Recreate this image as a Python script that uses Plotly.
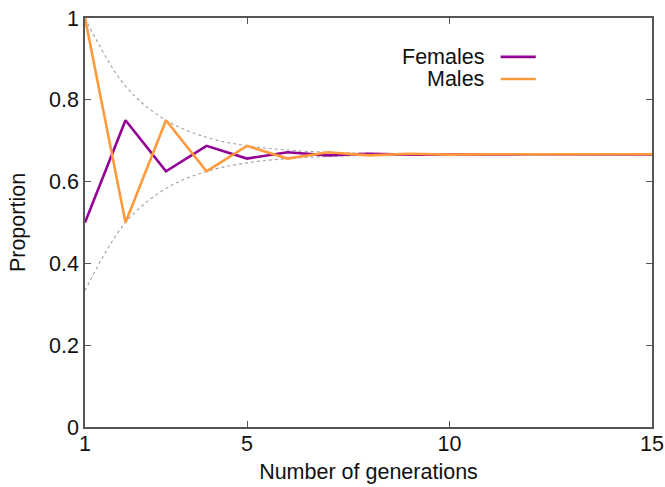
import plotly.graph_objects as go

generations = list(range(1, 16))
females = [0.5, 0.75, 0.625, 0.6875, 0.65625, 0.671875, 0.6640625, 0.66797, 0.66602,
           0.66699, 0.66650, 0.66675, 0.66663, 0.66669, 0.66666]
males = [1.0, 0.5, 0.75, 0.625, 0.6875, 0.65625, 0.671875, 0.6640625, 0.66797,
         0.66602, 0.66699, 0.66650, 0.66675, 0.66663, 0.66669]
upper_env = [1.0, 0.8333, 0.75, 0.7083, 0.6875, 0.6771, 0.6719, 0.6693, 0.6680,
             0.6673, 0.6670, 0.6668, 0.6667, 0.6667, 0.6667]
lower_env = [0.3333, 0.5, 0.5833, 0.625, 0.6458, 0.6563, 0.6615, 0.6641, 0.6654,
             0.6660, 0.6663, 0.6665, 0.6666, 0.6666, 0.6667]
x_ticks = [1, 5, 10, 15]
y_ticks = [0, 0.2, 0.4, 0.6, 0.8, 1]
y_tick_text = ["0", "0.2", "0.4", "0.6", "0.8", "1"]

PURPLE = "#950095"
ORANGE = "#ff9a3d"
FONT = "Liberation Sans, Arial, sans-serif"
FS = 21.5

fig = go.Figure()
for env in (upper_env, lower_env):
    fig.add_trace(go.Scatter(x=generations, y=env, mode="lines",
                             line=dict(color="#a0a0a0", width=1.1, dash="dot", shape="spline"),
                             showlegend=False, hoverinfo="skip"))
fig.add_trace(go.Scatter(x=generations, y=females, mode="lines", name="Females",
                         line=dict(color=PURPLE, width=2.6), showlegend=False))
fig.add_trace(go.Scatter(x=generations, y=males, mode="lines", name="Males",
                         line=dict(color=ORANGE, width=2.6), showlegend=False))

# legend (text left of the key line, gnuplot style)
for i, (name, col) in enumerate([("Females", PURPLE), ("Males", ORANGE)]):
    yk = 0.905 - i * 0.054
    fig.add_annotation(x=0.708, y=yk, xref="paper", yref="paper", text=name,
                       showarrow=False, xanchor="right", yanchor="middle",
                       font=dict(size=FS, color="#111", family=FONT))
    fig.add_shape(type="line", xref="paper", yref="paper", x0=0.733, x1=0.795,
                  y0=yk, y1=yk, line=dict(color=col, width=2.6))

axis_common = dict(showline=True, linecolor="#555", linewidth=1.5, mirror="ticks",
                   ticks="inside", ticklen=6, tickcolor="#555", tickwidth=1,
                   showgrid=False, zeroline=False, automargin=False,
                   ticklabeloverflow="allow",
                   tickfont=dict(size=FS, color="#111", family=FONT))
fig.update_xaxes(range=[1, 15], tickvals=x_ticks, ticklabelstandoff=-4, **axis_common,
                 title=dict(text="Number of generations", standoff=9,
                            font=dict(size=FS, color="#111", family=FONT)))
fig.update_yaxes(range=[0, 1], tickvals=y_ticks, ticktext=y_tick_text, **axis_common,
                 title=dict(text="Proportion", standoff=18,
                            font=dict(size=FS, color="#111", family=FONT)))
fig.update_layout(width=665, height=487, plot_bgcolor="white", paper_bgcolor="white",
                  margin=dict(l=85, r=13, t=18, b=60))
# remove the page's default 8px body margin so the figure fills the window exactly
fig.write_html("out.html", config={"displayModeBar": False},
               post_script="document.body.style.margin='0';document.body.style.overflow='hidden';")
